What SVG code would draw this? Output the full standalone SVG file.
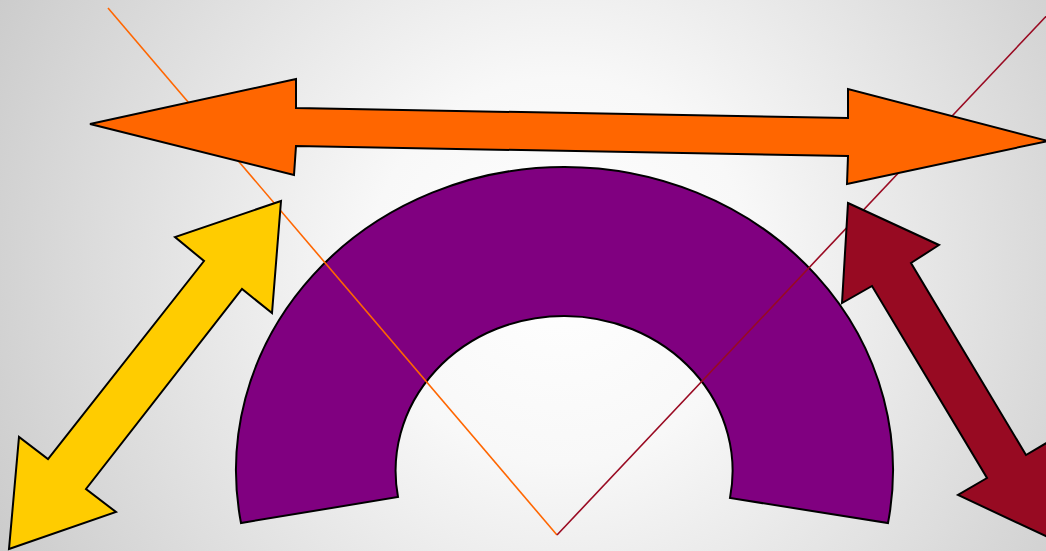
<svg xmlns="http://www.w3.org/2000/svg" width="1046" height="551" viewBox="0 0 1046 551">
  <defs>
    <radialGradient id="bg" gradientUnits="userSpaceOnUse" cx="560" cy="270" r="640">
      <stop offset="0" stop-color="#ffffff"/>
      <stop offset="0.3" stop-color="#f8f8f8"/>
      <stop offset="1" stop-color="#cacaca"/>
    </radialGradient>
    <style>
      .shape { stroke: #000000; stroke-width: 2; stroke-linejoin: miter; }
      .line { fill: none; stroke-width: 1.6; }
    </style>
  </defs>
  <rect x="0" y="0" width="1046" height="551" fill="url(#bg)"/>
  <g id="arch">
    <path class="shape" fill="#800080" d="M 241,523 A 328.5 303.3 0 1 1 888,523 L 730,498 A 168.5 155 0 1 0 398,497 Z"/>
  </g>
  <g id="connectors">
    <line class="line" stroke="#ff6600" x1="108" y1="8" x2="557" y2="535"/>
    <line class="line" stroke="#990a22" x1="1052" y1="10" x2="557" y2="535"/>
  </g>
  <g id="arrow-orange">
    <polygon class="shape" fill="#ff6600" points="90,124 296,79 296,108 848,118 848,89 1048,141 847,184 848,156 296,146 294,175"/>
  </g>
  <g id="arrow-yellow">
    <polygon class="shape" fill="#ffcc00" points="281,201 175,237 204,261 48,459 19,437 9,549 116,512 86,489 242,289 272,313"/>
  </g>
  <g id="arrow-red">
    <polygon class="shape" fill="#970a22" points="848,203 939,245 911,263 1026,455 1055,438 1050,538 958,495 987,478 872,286 842,303"/>
  </g>
</svg>
